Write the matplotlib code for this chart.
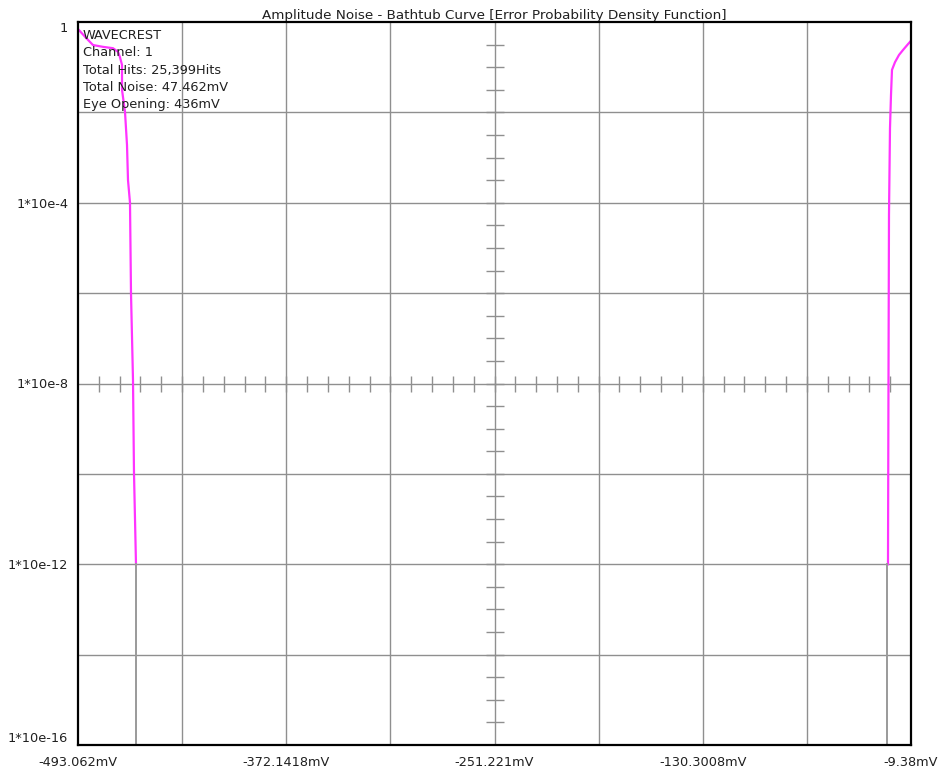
import numpy as np
import matplotlib
matplotlib.use("Agg")
import matplotlib.pyplot as plt

# ---- data ----
x_ticks_mV = [-493.062, -372.1418, -251.221, -130.3008, -9.38]
x_tick_labels = ["-493.062mV", "-372.1418mV", "-251.221mV", "-130.3008mV", "-9.38mV"]
y_ticks = [1, 1e-4, 1e-8, 1e-12, 1e-16]
y_tick_labels = ["1", "1*10e-4", "1*10e-8", "1*10e-12", "1*10e-16"]

left_x = [-492.48, -488.42, -484.35, -478.55, -472.74, -469.84, -468.68, -467.51,
          -467.51, -465.77, -464.61, -464.03, -462.87, -462.29, -461.13, -460.55, -459.39]
left_log10p = [-0.18, -0.35, -0.51, -0.55, -0.58, -0.66, -0.78, -0.95,
               -1.5, -1.99, -2.72, -3.5, -4.0, -6.0, -7.92, -9.98, -12.0]
left_ext_x = [-459.2, -459.2]
left_ext_log10p = [-12.0, -16.0]

right_x = [-9.5, -9.96, -11.13, -14.03, -16.36, -18.68, -20.42, -21.0, -21.58, -22.16, -22.45, -22.74]
right_log10p = [-0.42, -0.44, -0.49, -0.62, -0.73, -0.89, -1.06, -1.62, -2.35, -4.27, -7.92, -12.0]
right_ext_x = [-23.6, -23.6]
right_ext_log10p = [-12.0, -16.0]

info_lines = ["WAVECREST", "Channel: 1", "Total Hits: 25,399Hits",
              "Total Noise: 47.462mV", "Eye Opening: 436mV"]
title = "Amplitude Noise - Bathtub Curve [Error Probability Density Function]"

# ---- figure ----
plt.rcParams['font.family'] = ['DejaVu Sans']
W, H, DPI = 942, 775, 100
fig = plt.figure(figsize=(W / DPI, H / DPI), dpi=DPI)
ax = fig.add_axes([78 / W, 1 - 745 / H, (911 - 78) / W, (745 - 22) / H])
fs = 9.3

xmin, xmax = x_ticks_mV[0], x_ticks_mV[-1]
ax.set_xlim(xmin, xmax)
ax.set_yscale('log')
ax.set_ylim(1e-16, 1)

grid_c = '#8f8f8f'
# major grid: 8 divisions each way
for gx in np.linspace(xmin, xmax, 9)[1:-1]:
    ax.axvline(gx, color=grid_c, lw=1.0, zorder=1)
for e in range(-14, 0, 2):
    ax.axhline(10.0 ** e, color=grid_c, lw=1.0, zorder=1)

# center crosshair minor ticks
xc = (xmin + xmax) / 2
minor_x = np.linspace(xmin, xmax, 41)[1:-1]
ax.plot(minor_x, np.full_like(minor_x, 1e-8), ls='none', marker='|', ms=12,
        mew=1.0, color=grid_c, zorder=1)
minor_y = 10.0 ** np.arange(-0.5, -16.0, -0.5)
ax.plot(np.full_like(minor_y, xc), minor_y, ls='none', marker='_', ms=13,
        mew=1.0, color=grid_c, zorder=1)

# curves
mag = '#ff33ff'
ext_c = '#9a9a9a'
ax.plot(left_ext_x, [10.0 ** v for v in left_ext_log10p], color=ext_c, lw=1.4,
        zorder=4, clip_on=False)
ax.plot(right_ext_x, [10.0 ** v for v in right_ext_log10p], color=ext_c, lw=1.4,
        zorder=4, clip_on=False)
ax.plot(left_x, 10.0 ** np.array(left_log10p), color=mag, lw=1.6, zorder=3)
ax.plot(right_x, 10.0 ** np.array(right_log10p), color=mag, lw=1.6, zorder=3)

# ticks
ax.set_xticks(x_ticks_mV)
ax.set_xticklabels(x_tick_labels, fontsize=fs, color='#202020')
ax.set_yticks(y_ticks)
ax.set_yticklabels(y_tick_labels, fontsize=fs, color='#202020')
ax.minorticks_off()
ax.tick_params(axis='both', length=0)
ax.tick_params(axis='x', pad=8)
ax.tick_params(axis='y', pad=7)
for lab in ax.get_yticklabels():
    if lab.get_text() == "1":
        lab.set_va('top')
    elif lab.get_text() == "1*10e-16":
        lab.set_va('bottom')

for s in ax.spines.values():
    s.set_color('black')
    s.set_linewidth(1.6)
    s.set_zorder(5)

ax.set_title(title, fontsize=9.7, pad=1, color='#202020')

ax.text(0.006, 0.99, "\n".join(info_lines), transform=ax.transAxes, fontsize=fs,
        va='top', ha='left', linespacing=1.42, color='#202020', zorder=4)

fig.savefig("out.png", dpi=DPI, facecolor='white')
